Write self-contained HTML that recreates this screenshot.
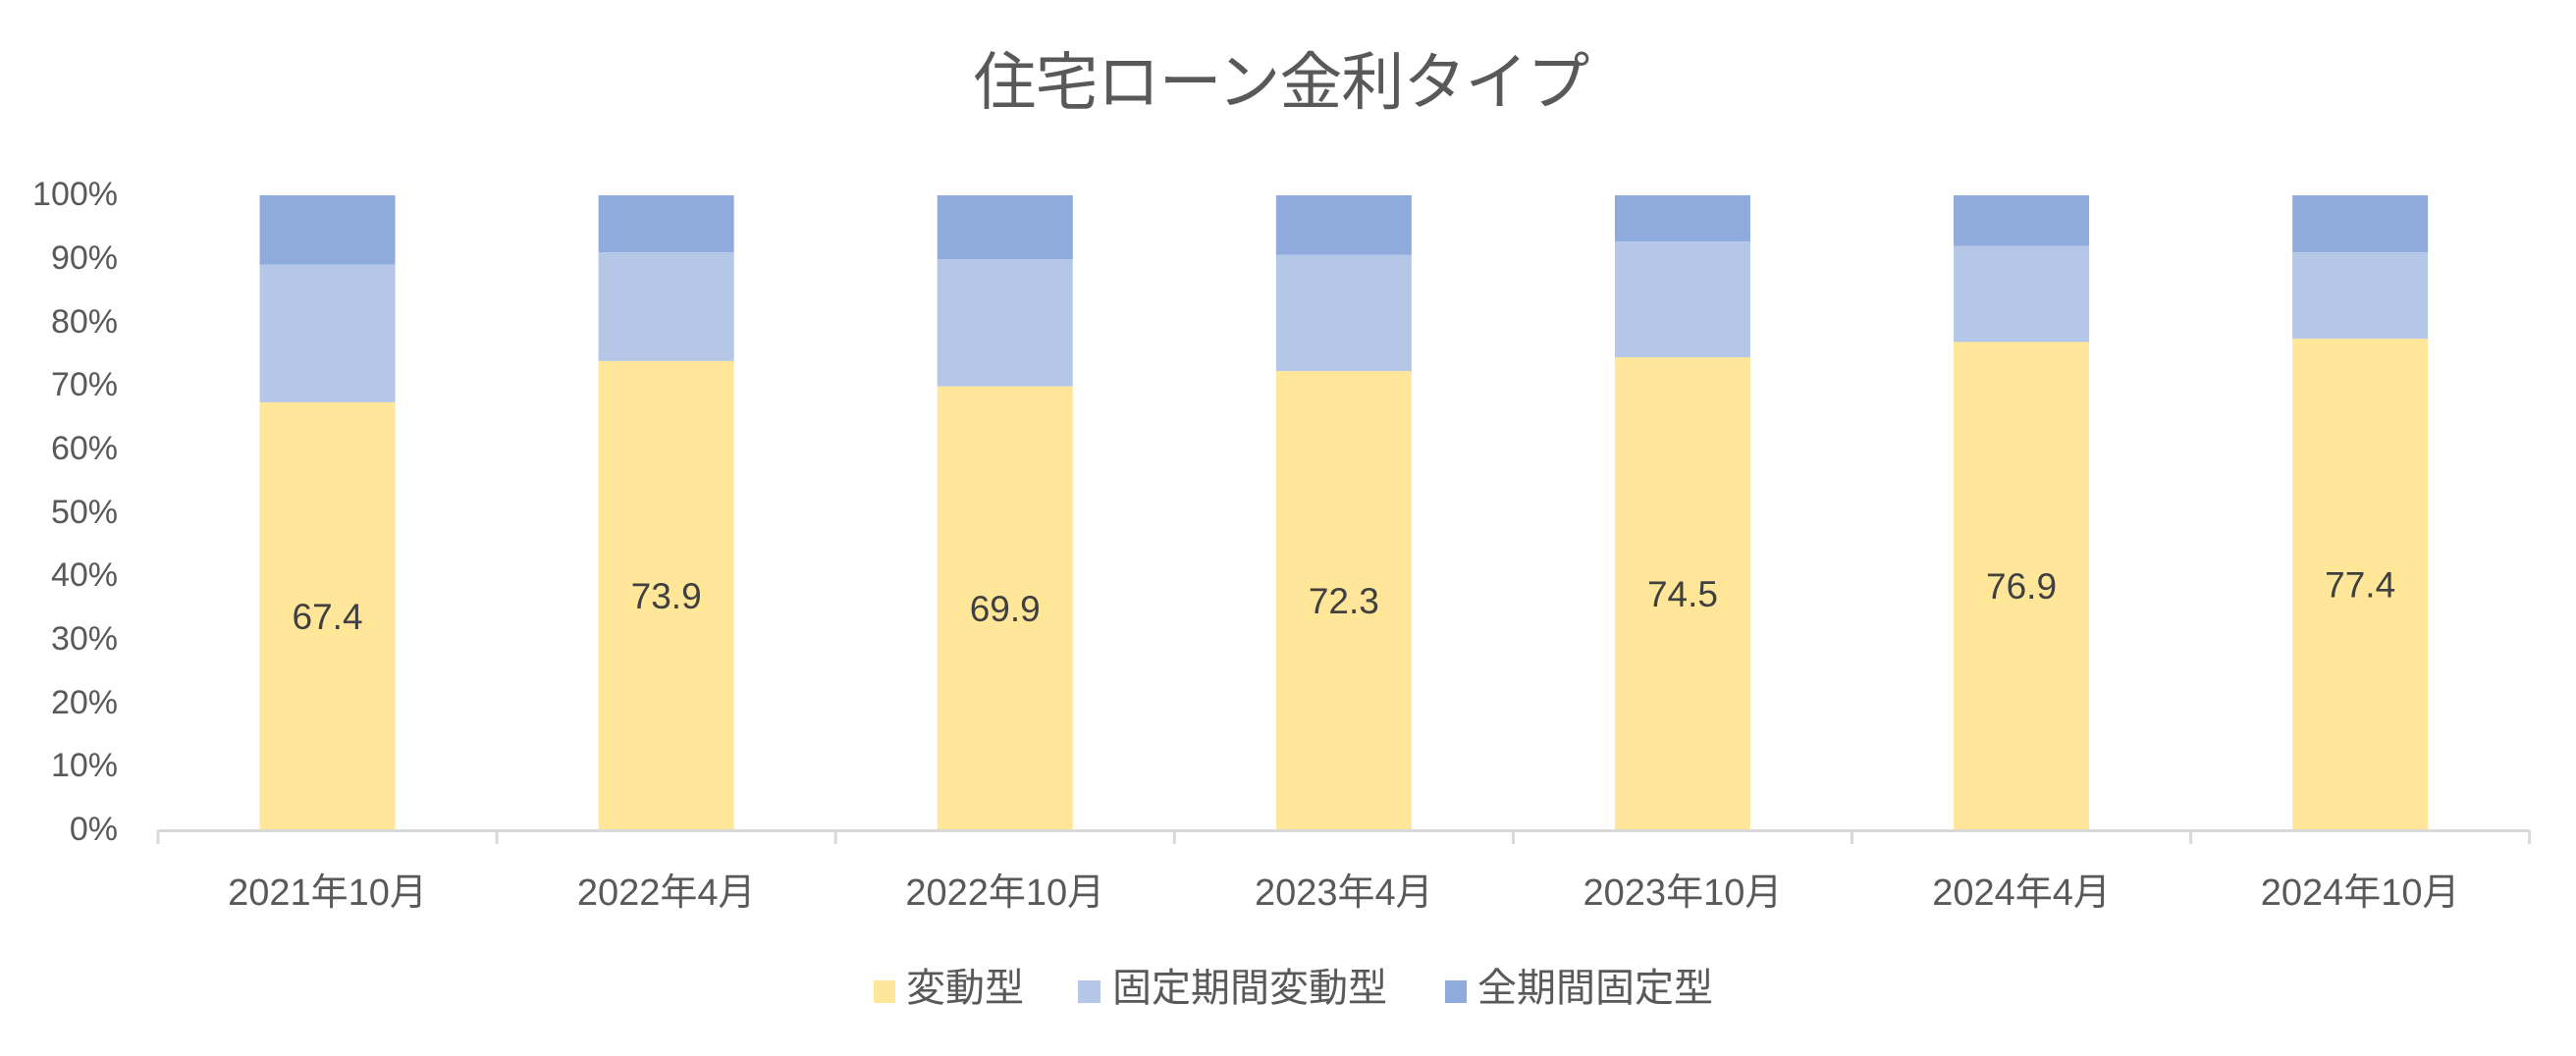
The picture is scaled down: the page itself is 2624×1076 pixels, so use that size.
<!DOCTYPE html>
<html><head><meta charset="utf-8"><style>
html,body{margin:0;padding:0;background:#fff;}
svg{display:block;}
text{font-family:"Liberation Sans","Noto Sans CJK JP",sans-serif;}
</style></head><body>
<svg width="2624" height="1076" viewBox="0 0 2624 1076" xmlns="http://www.w3.org/2000/svg">
<rect width="2624" height="1076" fill="#fff"/>
<text x="1305" y="106" font-size="64" fill="#595959" text-anchor="middle" letter-spacing="-1">住宅ローン金利タイプ</text>
<g font-size="34" fill="#595959" text-anchor="end">
<text x="120" y="209">100%</text>
<text x="120" y="274">90%</text>
<text x="120" y="339">80%</text>
<text x="120" y="403">70%</text>
<text x="120" y="468">60%</text>
<text x="120" y="533">50%</text>
<text x="120" y="597">40%</text>
<text x="120" y="662">30%</text>
<text x="120" y="727">20%</text>
<text x="120" y="791">10%</text>
<text x="120" y="856">0%</text>
</g>
<g id="bars"></g>
<script>
var vals=[[67.4,89.1],[73.9,91.0],[69.9,89.9],[72.3,90.6],[74.5,92.7],[76.9,92.0],[77.4,91.0]];
var labs=["2021年10月","2022年4月","2022年10月","2023年4月","2023年10月","2024年4月","2024年10月"];
var g=document.getElementById('bars');var ns="http://www.w3.org/2000/svg";
var y0=846,H=647,x0=161,cw=345.1,bw=138;
function r(x,y,w,h,c){var e=document.createElementNS(ns,'rect');e.setAttribute('x',x);e.setAttribute('y',y);e.setAttribute('width',w);e.setAttribute('height',h);e.setAttribute('fill',c);g.appendChild(e);}
function t(x,y,s,c,txt){var e=document.createElementNS(ns,'text');e.setAttribute('x',x);e.setAttribute('y',y);e.setAttribute('font-size',s);e.setAttribute('fill',c);e.setAttribute('text-anchor','middle');e.textContent=txt;g.appendChild(e);}
for(var i=0;i<7;i++){var cx=x0+(i+0.5)*cw,bx=cx-bw/2;var a=vals[i][0],b=vals[i][1];
r(bx,y0-H,bw,H*(1-b/100),'#8FAADC');
r(bx,y0-H*b/100,bw,H*(b-a)/100,'#B4C7E7');
r(bx,y0-H*a/100,bw,H*a/100,'#FFE699');
t(cx,y0-H*a/200+13,37,'#404040',a.toFixed(1));
t(cx,922,38,'#595959',labs[i]);}
for(var i=0;i<=7;i++){r(x0+i*cw-1.5,846,3,14,'#d9d9d9');}
r(x0,845,cw*7,3,'#d9d9d9');
</script>
<rect x="890" y="999" width="22" height="23" fill="#FFE699"/>
<text x="923" y="1020" font-size="40" fill="#595959">変動型</text>
<rect x="1098" y="999" width="23" height="23" fill="#B4C7E7"/>
<text x="1133" y="1020" font-size="40" fill="#595959">固定期間変動型</text>
<rect x="1472" y="999" width="22" height="23" fill="#8FAADC"/>
<text x="1505" y="1020" font-size="40" fill="#595959">全期間固定型</text>
</svg>
</body></html>
